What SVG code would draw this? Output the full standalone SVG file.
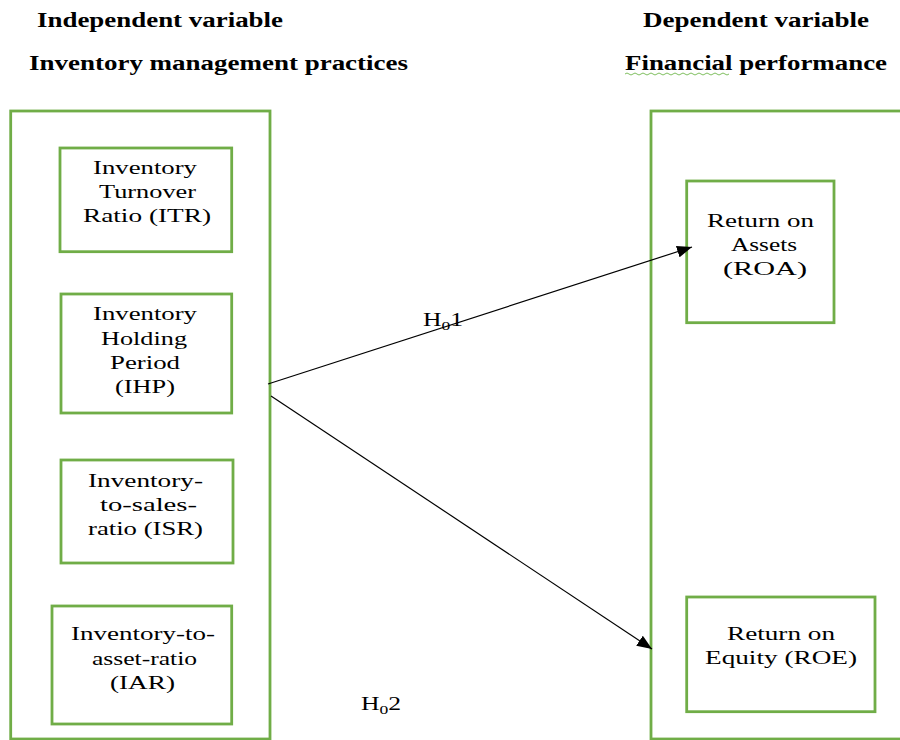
<svg xmlns="http://www.w3.org/2000/svg" width="900" height="740" viewBox="0 0 900 740">
<style>
.box{fill:none;stroke:#70AD47;stroke-width:2.8}
.t{font-family:"Liberation Serif","Times New Roman",serif;font-size:19px;fill:#000}
.h{font-family:"Liberation Serif","Times New Roman",serif;font-size:20px;font-weight:bold;fill:#000}
.c{stroke:#000;stroke-width:1.2;fill:none}
</style>
<defs>
<marker id="arr" markerUnits="userSpaceOnUse" markerWidth="16" markerHeight="12" refX="15" refY="6" orient="auto">
<path d="M0,0 L15,6 L0,12 Z" fill="#000"/>
</marker>
</defs>
<g id="titles">
<text class="h" x="37" y="27" textLength="246" lengthAdjust="spacingAndGlyphs">Independent variable</text>
<text class="h" x="29" y="70" textLength="379" lengthAdjust="spacingAndGlyphs">Inventory management practices</text>
<text class="h" x="643" y="27" textLength="226" lengthAdjust="spacingAndGlyphs">Dependent variable</text>
<text class="h" x="625" y="70" textLength="262" lengthAdjust="spacingAndGlyphs">Financial performance</text>
<path d="M625,74 q2,-2 4,0 t4,0 t4,0 t4,0 t4,0 t4,0 t4,0 t4,0 t4,0 t4,0 t4,0 t4,0 t4,0 t4,0 t4,0 t4,0 t4,0 t4,0 t4,0 t4,0 t4,0 t4,0 t4,0 t4,0 t4,0 t4,0" fill="none" stroke="#7fbf5f" stroke-width="1"/>
</g>
<g id="independent">
<rect class="box" x="10.7" y="111" width="259.3" height="628"/>
</g>
<g id="dependent">
<rect class="box" x="651" y="111" width="260" height="628"/>
</g>
<g id="itr">
<rect class="box" x="60" y="148" width="171.7" height="103.7"/>
<text class="t" x="93" y="174" textLength="104" lengthAdjust="spacingAndGlyphs">Inventory</text>
<text class="t" x="99" y="198" textLength="97" lengthAdjust="spacingAndGlyphs">Turnover</text>
<text class="t" x="83" y="222" textLength="128" lengthAdjust="spacingAndGlyphs">Ratio (ITR)</text>
</g>
<g id="ihp">
<rect class="box" x="61" y="294" width="170.7" height="119"/>
<text class="t" x="93" y="320" textLength="104" lengthAdjust="spacingAndGlyphs">Inventory</text>
<text class="t" x="101" y="345" textLength="86" lengthAdjust="spacingAndGlyphs">Holding</text>
<text class="t" x="110" y="369" textLength="70" lengthAdjust="spacingAndGlyphs">Period</text>
<text class="t" x="115" y="393" textLength="60" lengthAdjust="spacingAndGlyphs">(IHP)</text>
</g>
<g id="isr">
<rect class="box" x="61" y="460" width="172" height="103"/>
<text class="t" x="88" y="487" textLength="115" lengthAdjust="spacingAndGlyphs">Inventory-</text>
<text class="t" x="100" y="511" textLength="97" lengthAdjust="spacingAndGlyphs">to-sales-</text>
<text class="t" x="88" y="535" textLength="115" lengthAdjust="spacingAndGlyphs">ratio (ISR)</text>
</g>
<g id="iar">
<rect class="box" x="52" y="606" width="179.7" height="118"/>
<text class="t" x="71" y="640" textLength="144" lengthAdjust="spacingAndGlyphs">Inventory-to-</text>
<text class="t" x="92" y="665" textLength="105" lengthAdjust="spacingAndGlyphs">asset-ratio</text>
<text class="t" x="110" y="689" textLength="65" lengthAdjust="spacingAndGlyphs">(IAR)</text>
</g>
<g id="roa">
<rect class="box" x="686.7" y="181" width="147.3" height="141.7"/>
<text class="t" x="707" y="227" textLength="107" lengthAdjust="spacingAndGlyphs">Return on</text>
<text class="t" x="731" y="251" textLength="66" lengthAdjust="spacingAndGlyphs">Assets</text>
<text class="t" x="723" y="275" textLength="84" lengthAdjust="spacingAndGlyphs">(ROA)</text>
</g>
<g id="roe">
<rect class="box" x="686.7" y="597" width="188.3" height="114.7"/>
<text class="t" x="727" y="640" textLength="108" lengthAdjust="spacingAndGlyphs">Return on</text>
<text class="t" x="705" y="664" textLength="152" lengthAdjust="spacingAndGlyphs">Equity (ROE)</text>
</g>
<g id="connectors">
<line class="c" x1="268" y1="384" x2="692" y2="247" marker-end="url(#arr)"/>
<line class="c" x1="271" y1="396" x2="652" y2="649" marker-end="url(#arr)"/>
</g>
<g id="labels">
<text class="t" transform="translate(423,326) scale(1.35,1)">H<tspan font-size="13" dy="4">0</tspan><tspan dy="-4">1</tspan></text>
<text class="t" transform="translate(361,710) scale(1.35,1)">H<tspan font-size="13" dy="4">0</tspan><tspan dy="-4">2</tspan></text>
</g>
</svg>
